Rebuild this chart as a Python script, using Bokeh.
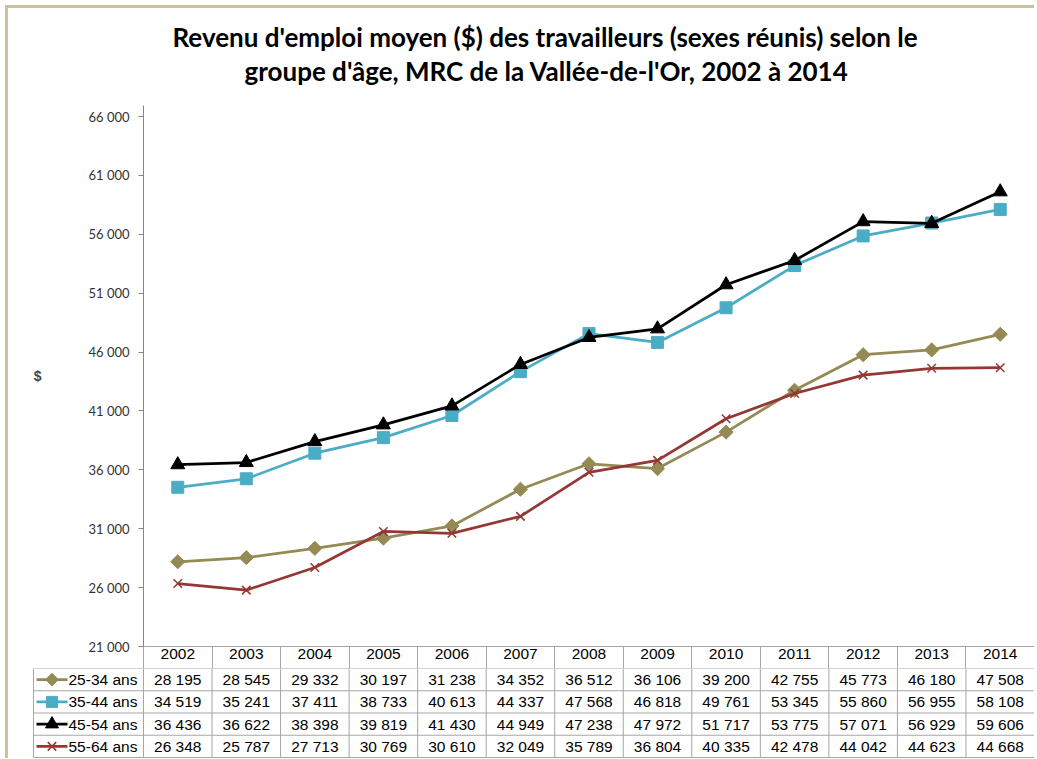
from math import pi
from bokeh.plotting import figure
from bokeh.models import Range1d, FixedTicker, Title, ColumnDataSource
from bokeh.layouts import column
from bokeh.embed import file_html
from bokeh.resources import INLINE
from bokeh.core.properties import value

# ---------------- data ----------------
years = ["2002", "2003", "2004", "2005", "2006", "2007", "2008",
         "2009", "2010", "2011", "2012", "2013", "2014"]
groups = ["25-34 ans", "35-44 ans", "45-54 ans", "55-64 ans"]
v25_34 = [28195, 28545, 29332, 30197, 31238, 34352, 36512, 36106, 39200, 42755, 45773, 46180, 47508]
v35_44 = [34519, 35241, 37411, 38733, 40613, 44337, 47568, 46818, 49761, 53345, 55860, 56955, 58108]
v45_54 = [36436, 36622, 38398, 39819, 41430, 44949, 47238, 47972, 51717, 53775, 57071, 56929, 59606]
v55_64 = [26348, 25787, 27713, 30769, 30610, 32049, 35789, 36804, 40335, 42478, 44042, 44623, 44668]
y_ticks = [21000, 26000, 31000, 36000, 41000, 46000, 51000, 56000, 61000, 66000]
title_lines = ["Revenu d'emploi moyen ($) des travailleurs (sexes réunis) selon le",
               "groupe d'âge, MRC de la Vallée-de-l'Or, 2002 à 2014"]
y_label = "$"

series_values = [v25_34, v35_44, v45_54, v55_64]
colors = ["#948A54", "#4BACC6", "#000000", "#953735"]
markers = ["square", "square", "triangle", "x"]
msizes = [10, 12, 14, 12]
angles = [pi / 4, 0, 0, 0]

def fmt(v):
    return f"{v:,}".replace(",", " ")

TITLE_FONT = "Lato"
TICK_FONT = "Lato"
TABLE_FONT = "Liberation Sans"
TABLE_SIZE = "15.5px"
GRID = "#A6A6A6"
FRAME_COLOR = "#CCC29A"

# ---------------- layout sizes ----------------
W = 1026
A_LEFT, A_TOP, A_BOTTOM = 135, 97, 22
PLOT_H = 530          # height from lowest to highest tick
AXIS_EXTRA = 11       # axis line extends a bit above the top tick
frame_w = W - A_LEFT
ncol = len(years)
col_px = frame_w / ncol
legend_px = 110
row_px = 22.25

# ---------------- chart ----------------
y_top = y_ticks[-1] + AXIS_EXTRA * (y_ticks[-1] - y_ticks[0]) / PLOT_H
pA = figure(width=W, height=A_TOP + PLOT_H + AXIS_EXTRA + A_BOTTOM,
            x_range=Range1d(-0.5, ncol - 0.5), y_range=Range1d(y_ticks[0], y_top),
            output_backend="svg", toolbar_location=None, title=None,
            min_border_left=A_LEFT, min_border_right=0,
            min_border_top=A_TOP, min_border_bottom=A_BOTTOM)
pA.grid.visible = False
pA.outline_line_color = None

xa = pA.xaxis[0]
xa.ticker = FixedTicker(ticks=list(range(ncol)),
                        minor_ticks=[i - 0.5 for i in range(ncol + 1)])
xa.major_label_overrides = {i: y for i, y in enumerate(years)}
xa.major_tick_line_color = None
xa.major_tick_out = 0
xa.major_tick_in = 0
xa.minor_tick_in = 0
xa.minor_tick_out = A_BOTTOM
xa.minor_tick_line_color = GRID
xa.axis_line_color = GRID
xa.major_label_standoff = -20
xa.major_label_text_font = TABLE_FONT
xa.major_label_text_font_size = TABLE_SIZE
xa.major_label_text_color = "black"

ya = pA.yaxis[0]
ya.ticker = FixedTicker(ticks=y_ticks)
ya.major_label_overrides = {t: fmt(t) for t in y_ticks}
ya.major_tick_out = 5
ya.major_tick_in = 0
ya.minor_tick_line_color = None
ya.axis_line_color = "#868686"
ya.major_tick_line_color = "#868686"
ya.major_label_standoff = 9
ya.major_label_text_font = TICK_FONT
ya.major_label_text_font_size = "13px"
ya.major_label_text_color = "#333333"
ya.axis_label = y_label
ya.axis_label_orientation = "horizontal"
ya.axis_label_text_font = "Liberation Sans"
ya.axis_label_text_font_style = "bold"
ya.axis_label_text_font_size = "14px"
ya.axis_label_standoff = 44

xs = list(range(ncol))
for vals, c, m, s, a in zip(series_values, colors, markers, msizes, angles):
    src = ColumnDataSource(dict(x=xs, y=vals))
    pA.line("x", "y", source=src, line_color=c, line_width=2.75)
    if m == "x":
        pA.scatter("x", "y", source=src, marker=m, size=s, line_color=c, line_width=1.5)
    else:
        pA.scatter("x", "y", source=src, marker=m, size=s, angle=a,
                   fill_color=c, line_color=c, line_width=1)

# titles (stacked upward from the frame: spacer, line 2, line 1)
spacer = Title(text=" ", text_font_size="1px", standoff=16)
pA.add_layout(spacer, "above")
t2 = Title(text=title_lines[1], align="left", offset=101, standoff=0,
           text_font=TITLE_FONT, text_font_size="26px", text_font_style="bold",
           text_color="black")
pA.add_layout(t2, "above")
t1 = Title(text=title_lines[0], align="left", offset=29, standoff=0,
           text_font=TITLE_FONT, text_font_size="26px", text_font_style="bold",
           text_color="black")
pA.add_layout(t1, "above")

# ---------------- data table ----------------
nrow = len(groups)
legend_left = -0.5 - legend_px / col_px
x_start = legend_left - 1 / col_px
B_H = 90
pB = figure(width=W, height=B_H,
            x_range=Range1d(x_start, ncol - 0.5),
            y_range=Range1d(-1 / row_px, nrow + (B_H - 1 - nrow * row_px) / row_px),
            output_backend="svg", toolbar_location=None,
            x_axis_location=None, y_axis_location=None,
            min_border_left=A_LEFT - legend_px - 1, min_border_right=0,
            min_border_top=0, min_border_bottom=0)
pB.grid.visible = False
pB.outline_line_color = None

# grid lines
hx0 = [legend_left] * (nrow + 1)
hx1 = [ncol - 0.5] * (nrow + 1)
hy = list(range(nrow + 1))
pB.segment(x0=hx0, y0=hy, x1=hx1, y1=hy, line_color=GRID, line_width=1)
vx = [legend_left] + [i - 0.5 for i in range(ncol + 1)]
pB.segment(x0=vx, y0=[0] * len(vx), x1=vx, y1=[nrow] * len(vx), line_color=GRID, line_width=1)

# values
tx, ty, tt = [], [], []
for r, vals in enumerate(series_values):
    for i, v in enumerate(vals):
        tx.append(i)
        ty.append(nrow - r - 0.5)
        tt.append(fmt(v))
pB.text(x=tx, y=ty, text=tt, text_align="center", text_baseline="middle",
        text_font=value(TABLE_FONT), text_font_size=value(TABLE_SIZE), text_color="black")

# legend keys
for r, (g, c, m, s, a) in enumerate(zip(groups, colors, markers, msizes, angles)):
    yc = nrow - r - 0.5
    x0 = legend_left + 3 / col_px
    x1 = legend_left + 34 / col_px
    pB.line(x=[x0, x1], y=[yc, yc], line_color=c, line_width=2.75)
    xm = (x0 + x1) / 2
    if m == "x":
        pB.scatter(x=[xm], y=[yc], marker=m, size=s, line_color=c, line_width=1.5)
    else:
        pB.scatter(x=[xm], y=[yc], marker=m, size=s - 1, angle=a, fill_color=c, line_color=c)
    pB.text(x=[legend_left + 35 / col_px], y=[yc], text=[g], text_align="left",
            text_baseline="middle", text_font=value(TABLE_FONT),
            text_font_size=value(TABLE_SIZE), text_color="black")

# two separate roots so that the frames are not aligned with each other
boxA = column(pA, spacing=0,
              styles={"margin-left": "5px", "margin-top": "5px",
                      "border-left": f"3px solid {FRAME_COLOR}",
                      "border-top": f"3px solid {FRAME_COLOR}"})
boxB = column(pB, spacing=0,
              styles={"margin-left": "5px",
                      "border-left": f"3px solid {FRAME_COLOR}"})

open("out.html", "w").write(file_html([boxA, boxB], INLINE))
